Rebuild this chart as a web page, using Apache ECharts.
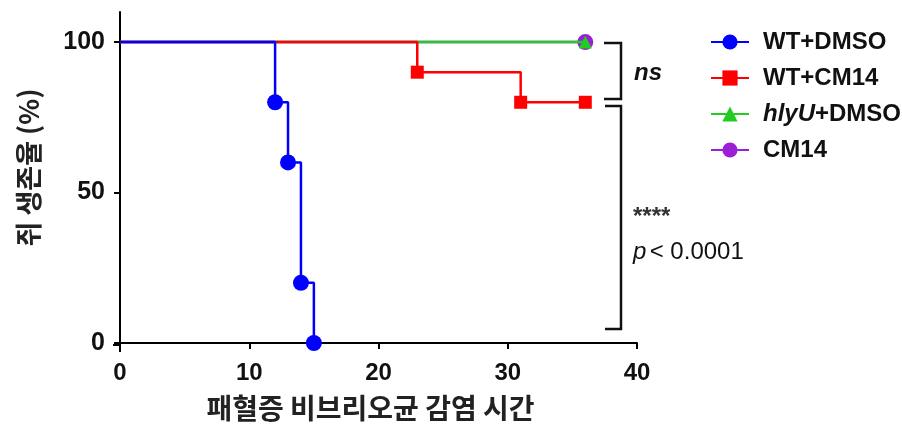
<!DOCTYPE html>
<html><head><meta charset="utf-8">
<script src="https://cdn.jsdelivr.net/npm/echarts@6/dist/echarts.min.js"></script>
<style>html,body{margin:0;padding:0;background:#fff}#c{width:902px;height:427px}</style>
</head><body><div id="c"></div>
<script>
// Kaplan-Meier survival data: [time, percent survival]
const wtDmso = [[0,100],[12,80],[13,60],[14,20],[15,0]];
const wtCm14 = [[0,100],[23,90],[31,80],[36,80]];
const hlyuDmso = [[0,100],[36,100]];
const cm14 = [[0,100],[36,100]];
const seriesNames = ['WT+DMSO','WT+CM14','hlyU+DMSO','CM14'];
const xTicks = [0,10,20,30,40];
const yTicks = [0,50,100];

const chart = echarts.init(document.getElementById('c'), null, {renderer:'canvas'});
const num = 'Liberation Sans, Arial, sans-serif';
const kr = '"Noto Sans CJK KR", sans-serif';

function pts(arr){ return arr.map((p,i)=> i===0 ? {value:p, symbol:'none'} : {value:p}); }

function mk(name, data, color, symbol, size, z){
  return {name, type:'line', step:'end', data:pts(data), symbol, symbolSize:size,
    showSymbol:true, z, lineStyle:{color, width:2.5}, itemStyle:{color},
    emphasis:{disabled:true}, animation:false};
}

chart.setOption({
  animation:false,
  grid:{left:120, right:265, top:12, bottom:82, containLabel:false},
  xAxis:{type:'value', min:0, max:40, interval:10,
    axisLine:{lineStyle:{color:'#000', width:2}},
    axisTick:{length:6, lineStyle:{color:'#000', width:2}},
    axisLabel:{color:'#111', fontFamily:num, fontWeight:'bold', fontSize:24, margin:18},
    splitLine:{show:false},
    name:'패혈증 비브리오균 감염 시간', nameLocation:'middle', nameGap:51,
    nameTextStyle:{color:'#222', fontFamily:kr, fontSize:28, fontWeight:'bold', padding:[0,16,0,0]}},
  yAxis:{type:'value', min:0, max:110, interval:50,
    axisLine:{show:true, lineStyle:{color:'#000', width:2}},
    axisTick:{length:6, lineStyle:{color:'#000', width:2}, customValues:yTicks},
    axisLabel:{color:'#111', fontFamily:num, fontWeight:'bold', fontSize:25, margin:15, customValues:yTicks},
    splitLine:{show:false},
    name:'쥐 생존율 (%)', nameLocation:'middle', nameGap:78, nameRotate:90,
    nameTextStyle:{color:'#222', fontFamily:kr, fontSize:27, fontWeight:'bold', padding:[0,0,0,20]}},
  legend:{orient:'vertical', left:705, top:25, itemGap:12, itemWidth:38, itemHeight:19,
    data:seriesNames,
    formatter: n => n==='hlyU+DMSO' ? '{i|hlyU}{b|+DMSO}' : '{b|'+n+'}',
    textStyle:{color:'#111', fontFamily:num, fontSize:24, padding:[0,0,0,9],
      rich:{i:{fontFamily:num, fontSize:24, fontStyle:'italic', fontWeight:'bold', color:'#111'},
            b:{fontFamily:num, fontSize:24, fontWeight:'bold', color:'#111'}}}},
  series:[
    mk('hlyU+DMSO', hlyuDmso, '#22cc22', 'triangle', 13, 5),
    mk('CM14', cm14, '#9a1fd6', 'circle', 16, 4),
    mk('WT+CM14', wtCm14, '#ff0000', 'rect', 13, 6),
    mk('WT+DMSO', wtDmso, '#0000ff', 'circle', 16, 7)
  ],
  graphic:[
    // axis overhangs at origin
    {type:'line', shape:{x1:113,y1:345,x2:121,y2:345}, style:{stroke:'#000', lineWidth:2}},
    {type:'line', shape:{x1:120,y1:345,x2:120,y2:352}, style:{stroke:'#000', lineWidth:2}},
    // ns bracket
    {type:'polyline', shape:{points:[[604,43],[621,43],[621,99],[604,99]]}, style:{stroke:'#111', lineWidth:2.5, fill:null}},
    {type:'text', left:634, top:61, style:{text:'ns', font:'italic bold 24px Liberation Sans, Arial', fill:'#111'}},
    // significance bracket
    {type:'polyline', shape:{points:[[605,106],[621,106],[621,329],[605,329]]}, style:{stroke:'#111', lineWidth:2.5, fill:null}},
    {type:'text', left:633, top:205, style:{text:'****', font:'bold 24px Liberation Sans, Arial', fill:'#333'}},
    {type:'text', left:633, top:240, style:{rich:{p:{font:'italic 24px Liberation Sans, Arial', fill:'#111'}, r:{font:'24px Liberation Sans, Arial', fill:'#111'}}, text:'{p|p} {r|< 0.0001}'}}
  ]
});
</script></body></html>
